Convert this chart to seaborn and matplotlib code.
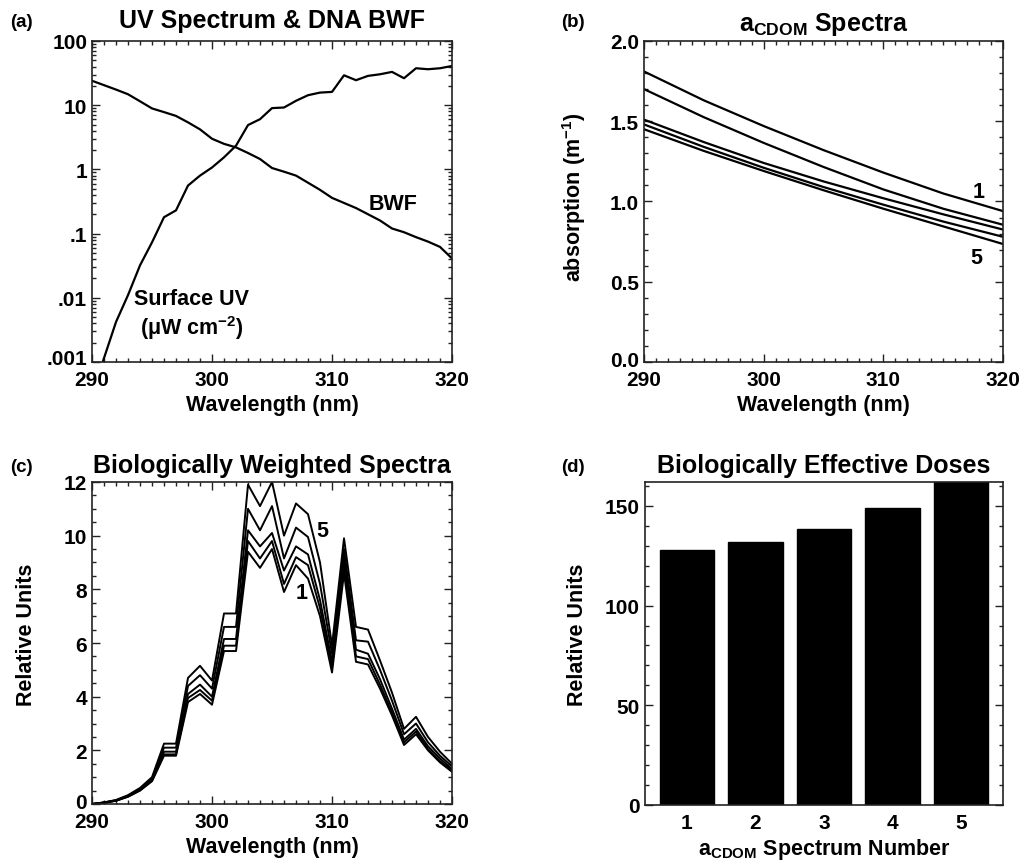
import numpy as np
import pandas as pd
import matplotlib
matplotlib.use("Agg")
import matplotlib.pyplot as plt
import matplotlib.transforms as mtransforms
import seaborn as sns
from matplotlib.ticker import MultipleLocator, LogLocator, NullFormatter, FixedLocator, FixedFormatter

# ---------------- data ----------------
wavelength = list(range(290, 321))

bwf = [24, 20.5, 17.5, 14.8, 11.5, 8.9, 7.8, 6.8, 5.4, 4.2, 3.0, 2.5, 2.2, 1.8, 1.45,
       1.05, 0.92, 0.8, 0.62, 0.48, 0.36, 0.30, 0.25, 0.20, 0.16, 0.12, 0.105, 0.088,
       0.075, 0.062, 0.041]

surface_uv = [0.00032, 0.00115, 0.0042, 0.011, 0.032, 0.073, 0.18, 0.23, 0.56, 0.8,
              1.07, 1.54, 2.34, 4.9, 6.05, 9.0, 9.2, 11.7, 14.3, 15.7, 16.1, 29.2,
              24.5, 28.6, 30.3, 33.0, 26.3, 37.6, 36.3, 37.6, 40.8]

wl_acdom = [290, 295, 300, 305, 310, 315, 320]
acdom_1 = [1.81, 1.63, 1.47, 1.32, 1.18, 1.05, 0.94]
acdom_2 = [1.70, 1.525, 1.365, 1.215, 1.075, 0.955, 0.855]
acdom_3 = [1.51, 1.37, 1.24, 1.125, 1.02, 0.92, 0.825]
acdom_4 = [1.48, 1.34, 1.21, 1.09, 0.98, 0.875, 0.78]
acdom_5 = [1.45, 1.315, 1.19, 1.07, 0.955, 0.845, 0.735]

bws_1 = [0.0, 0.05, 0.12, 0.27, 0.5, 0.85, 1.8, 1.8, 3.8, 4.1, 3.7, 5.7, 5.7, 9.4, 8.8,
         9.5, 7.9, 8.9, 8.4, 7.0, 4.9, 8.6, 5.3, 5.2, 4.3, 3.3, 2.2, 2.6, 2.0, 1.55, 1.2]
bws_2 = [0.0, 0.05, 0.12, 0.28, 0.51, 0.87, 1.85, 1.85, 3.95, 4.25, 3.85, 5.9, 5.9, 9.8, 9.15,
         9.8, 8.2, 9.2, 8.9, 7.3, 5.1, 8.9, 5.5, 5.4, 4.45, 3.4, 2.3, 2.7, 2.05, 1.6, 1.25]
bws_3 = [0.0, 0.05, 0.13, 0.29, 0.53, 0.9, 1.95, 1.95, 4.1, 4.45, 4.0, 6.15, 6.15, 10.2, 9.6,
         10.1, 8.7, 9.6, 9.3, 7.6, 5.3, 9.2, 5.75, 5.6, 4.65, 3.55, 2.4, 2.8, 2.15, 1.7, 1.3]
bws_4 = [0.0, 0.06, 0.14, 0.31, 0.56, 0.95, 2.1, 2.1, 4.4, 4.8, 4.3, 6.6, 6.6, 11.0, 10.2,
         11.1, 9.15, 10.3, 9.95, 8.2, 5.6, 9.5, 6.1, 6.05, 5.0, 3.85, 2.6, 3.0, 2.3, 1.8, 1.4]
bws_5 = [0.0, 0.06, 0.15, 0.33, 0.6, 1.0, 2.25, 2.25, 4.7, 5.15, 4.6, 7.1, 7.1, 11.9, 11.1,
         12.0, 10.0, 11.2, 10.8, 9.0, 5.9, 9.9, 6.6, 6.5, 5.35, 4.15, 2.8, 3.25, 2.5, 1.95, 1.5]

spectrum_number = ["1", "2", "3", "4", "5"]
effective_dose = [128, 132, 138.5, 148.7, 165]

# ---------------- style ----------------
sns.set_theme(style="ticks")
plt.rcParams.update({
    "font.weight": "bold",
    "axes.labelweight": "bold",
    "axes.titleweight": "bold",
    "mathtext.fontset": "custom",
    "mathtext.rm": "Liberation Sans",
    "mathtext.bf": "Liberation Sans:bold",
    "mathtext.it": "Liberation Sans:bold",
    "mathtext.default": "bf",
    "axes.edgecolor": "#222222",
    "text.color": "black",
    "axes.labelcolor": "black",
    "xtick.color": "#222222",
    "ytick.color": "#222222",
    "xtick.labelcolor": "black",
    "ytick.labelcolor": "black",
})
plt.rcParams["font.family"] = ["Liberation Sans", "DejaVu Sans"]

LBL = 15.5
TIT = 18
TICK = 15

fig = plt.figure(figsize=(10.28, 8.62), dpi=100)
axA = fig.add_axes([0.0895, 0.5789, 0.3502, 0.3724])
axB = fig.add_axes([0.6265, 0.5789, 0.3492, 0.3724])
axC = fig.add_axes([0.0895, 0.0661, 0.3502, 0.3736])
axD = fig.add_axes([0.6274, 0.0650, 0.3483, 0.3747])


def style(ax):
    ax.tick_params(which="both", direction="in", top=True, right=True,
                   width=1.0, labelsize=TICK)
    ax.tick_params(axis="x", which="both", pad=5.5)
    ax.tick_params(axis="y", which="both", pad=3.5)
    ax.tick_params(which="major", length=6)
    ax.tick_params(which="minor", length=3)
    for s in ax.spines.values():
        s.set_linewidth(1.2)
        s.set_visible(True)


def lift_bottom_ylabel(ax, px):
    y0 = ax.get_ylim()[0]
    for t in ax.yaxis.get_major_ticks():
        if np.isclose(t.get_loc(), y0, rtol=1e-6, atol=1e-9):
            lab = t.label1
            lab.set_transform(lab.get_transform() +
                              mtransforms.ScaledTranslation(0, px / 100.0, fig.dpi_scale_trans))


# ---- (a) ----
dfa = pd.DataFrame({"wl": wavelength * 2, "val": bwf + surface_uv,
                    "curve": ["BWF"] * len(bwf) + ["UV"] * len(surface_uv)})
sns.lineplot(data=dfa, x="wl", y="val", hue="curve", palette=["black", "black"],
             linewidth=1.6, legend=False, ax=axA, estimator=None)
axA.set_yscale("log")
axA.set_xlim(290, 320)
axA.set_ylim(0.001, 100)
style(axA)
axA.xaxis.set_major_locator(MultipleLocator(10))
axA.xaxis.set_minor_locator(MultipleLocator(1))
axA.yaxis.set_major_locator(FixedLocator([0.001, 0.01, 0.1, 1, 10, 100]))
axA.yaxis.set_major_formatter(FixedFormatter([".001", ".01", ".1", "1", "10", "100"]))
axA.yaxis.set_minor_locator(LogLocator(base=10, subs=range(2, 10)))
axA.yaxis.set_minor_formatter(NullFormatter())
axA.set_xlabel("Wavelength (nm)", fontsize=LBL, labelpad=4)
axA.set_ylabel("")
axA.set_title("UV Spectrum & DNA BWF", fontsize=TIT, pad=10)
axA.text(315.1, 0.29, "BWF", fontsize=LBL, ha="center", va="center")
axA.text(298.3, 0.0096, "Surface UV", fontsize=LBL, ha="center", va="center")
axA.text(298.3, 0.0035, "(μW cm$^{-2}$)", fontsize=LBL, ha="center", va="center")

# ---- (b) ----
dfb = pd.DataFrame({"wl": wl_acdom * 5,
                    "val": acdom_1 + acdom_2 + acdom_3 + acdom_4 + acdom_5,
                    "spec": sum([[k] * len(wl_acdom) for k in spectrum_number], [])})
sns.lineplot(data=dfb, x="wl", y="val", hue="spec", palette=["black"] * 5,
             linewidth=1.6, legend=False, ax=axB, estimator=None)
axB.set_xlim(290, 320)
axB.set_ylim(0, 2.0)
style(axB)
axB.xaxis.set_major_locator(MultipleLocator(10))
axB.xaxis.set_minor_locator(MultipleLocator(1))
axB.yaxis.set_major_locator(MultipleLocator(0.5))
axB.yaxis.set_minor_locator(MultipleLocator(0.1))
axB.yaxis.set_major_formatter(matplotlib.ticker.FormatStrFormatter("%.1f"))
axB.set_xlabel("Wavelength (nm)", fontsize=LBL, labelpad=4)
axB.set_ylabel("absorption (m$^{-1}$)", fontsize=LBL)
axB.yaxis.set_label_coords(-0.155, 0.517)
axB.set_title(r"a$_{\mathrm{CDOM}}$ Spectra", fontsize=TIT, pad=8)
axB.text(318.0, 1.065, "1", fontsize=LBL, ha="center", va="center")
axB.text(317.8, 0.654, "5", fontsize=LBL, ha="center", va="center")

# ---- (c) ----
dfc = pd.DataFrame({"wl": wavelength * 5,
                    "val": bws_1 + bws_2 + bws_3 + bws_4 + bws_5,
                    "spec": sum([[k] * len(wavelength) for k in spectrum_number], [])})
sns.lineplot(data=dfc, x="wl", y="val", hue="spec", palette=["black"] * 5,
             linewidth=1.4, legend=False, ax=axC, estimator=None)
axC.set_xlim(290, 320)
axC.set_ylim(0, 12)
style(axC)
axC.xaxis.set_major_locator(MultipleLocator(10))
axC.xaxis.set_minor_locator(MultipleLocator(1))
axC.yaxis.set_major_locator(MultipleLocator(2))
axC.yaxis.set_minor_locator(MultipleLocator(0.5))
axC.set_xlabel("Wavelength (nm)", fontsize=LBL, labelpad=4)
axC.set_ylabel("Relative Units", fontsize=LBL)
axC.yaxis.set_label_coords(-0.153, 0.53)
axC.set_title("Biologically Weighted Spectra", fontsize=TIT, pad=7)
axC.text(309.2, 10.2, "5", fontsize=LBL, ha="center", va="center")
axC.text(307.5, 7.9, "1", fontsize=LBL, ha="center", va="center")

# ---- (d) ----
dfd = pd.DataFrame({"spec": spectrum_number, "dose": effective_dose})
sns.barplot(data=dfd, x="spec", y="dose", color="black", saturation=1,
            width=0.79, ax=axD, edgecolor="black")
axD.set_xlim(-0.613, 4.613)
axD.set_ylim(0, 162)
style(axD)
axD.tick_params(axis="x", which="both", bottom=False, top=False, length=0, pad=6)
axD.yaxis.set_major_locator(MultipleLocator(50))
axD.yaxis.set_minor_locator(MultipleLocator(10))
axD.set_xlabel(r"a$_{\mathrm{CDOM}}$ Spectrum Number", fontsize=LBL, labelpad=3)
axD.set_ylabel("Relative Units", fontsize=LBL)
axD.yaxis.set_label_coords(-0.16, 0.53)
axD.set_title("Biologically Effective Doses", fontsize=TIT, pad=7)

# lift bottom-most y tick labels slightly, as in the reference
fig.canvas.draw()
lift_bottom_ylabel(axA, 5)
lift_bottom_ylabel(axB, 3)
lift_bottom_ylabel(axC, 4)

# panel letters
fig.text(10 / 1028, 1 - 27 / 862, "(a)", fontsize=13.5, va="baseline", ha="left")
fig.text(561 / 1028, 1 - 27 / 862, "(b)", fontsize=13.5, va="baseline", ha="left")
fig.text(10 / 1028, 1 - 472 / 862, "(c)", fontsize=13.5, va="baseline", ha="left")
fig.text(561 / 1028, 1 - 472 / 862, "(d)", fontsize=13.5, va="baseline", ha="left")

fig.savefig("out.png", dpi=100, facecolor="white")
